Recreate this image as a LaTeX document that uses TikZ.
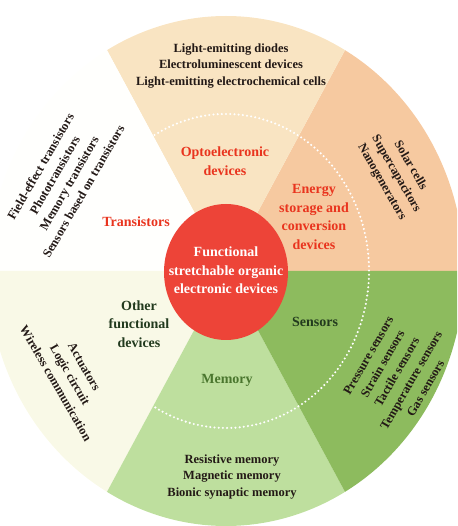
\documentclass[tikz,border=0pt]{standalone}
\usepackage{fontspec}
\setmainfont{Liberation Serif}
\definecolor{energyfill}{RGB}{246,201,160}
\definecolor{optofill}{RGB}{249,228,194}
\definecolor{transfill}{RGB}{255,255,253}
\definecolor{otherfill}{RGB}{249,249,231}
\definecolor{memfill}{RGB}{190,223,158}
\definecolor{sensfill}{RGB}{141,187,94}
\definecolor{corefill}{RGB}{237,68,56}
\definecolor{redtext}{RGB}{233,52,30}
\definecolor{listtext}{RGB}{35,25,22}
\definecolor{darkgreen}{RGB}{34,58,30}
\definecolor{memgreen}{RGB}{74,118,46}
\begin{document}
\begin{tikzpicture}[x=1pt,y=1pt,
  head/.style={font=\fontsize{14}{18.5}\selectfont\bfseries,align=center,inner sep=0pt},
  items/.style={font=\fontsize{12.5}{16.5}\selectfont\bfseries,align=center,inner sep=0pt,text=listtext}]
\useasboundingbox (-226,-255) rectangle (231,271);
\clip (-226,-255) rectangle (231,271);
\fill[energyfill] (0,0) -- (0:238 and 255) arc[start angle=0,end angle=60,x radius=238,y radius=255] -- cycle;
\fill[optofill] (0,0) -- (60:238 and 255) arc[start angle=60,end angle=120,x radius=238,y radius=255] -- cycle;
\fill[transfill] (0,0) -- (120:238 and 255) arc[start angle=120,end angle=180,x radius=238,y radius=255] -- cycle;
\fill[otherfill] (0,0) -- (180:238 and 255) arc[start angle=180,end angle=240,x radius=238,y radius=255] -- cycle;
\fill[memfill] (0,0) -- (240:238 and 255) arc[start angle=240,end angle=300,x radius=238,y radius=255] -- cycle;
\fill[sensfill] (0,0) -- (300:238 and 255) arc[start angle=300,end angle=360,x radius=238,y radius=255] -- cycle;
\draw[white,line width=2.3pt,line cap=round,dash pattern=on 0pt off 4.2pt] (120:143 and 157) arc[start angle=120,end angle=-120,x radius=143,y radius=157];
\fill[corefill] (0,-1) ellipse [x radius=62,y radius=68];
\node[head,text=white] (core) at (0,0.5) {Functional\\stretchable organic\\electronic devices};
\node[head,text=redtext] (opto) at (-1,110) {Optoelectronic\\devices};
\node[head,text=redtext] (energy) at (88,54) {Energy\\storage and\\conversion\\devices};
\node[head,text=redtext] (trans) at (-90,49) {Transistors};
\node[head,text=darkgreen] (other) at (-87,-53) {Other\\functional\\devices};
\node[head,text=darkgreen] (sens) at (89,-51) {Sensors};
\node[head,text=memgreen] (mem) at (1,-109) {Memory};
\node[items] (optolist) at (5,205) {Light-emitting diodes\\Electroluminescent devices\\Light-emitting electrochemical cells};
\node[items] (memlist) at (6,-206) {Resistive memory\\Magnetic memory\\Bionic synaptic memory};
\node[items,rotate=60] (translist) at (-164,92) {Field-effect transistors\\Phototransistors\\Memory transistors\\Sensors based on transistors};
\node[items,rotate=-60] (energylist) at (170,97) {Solar cells\\Supercapacitors\\Nanogenerators};
\node[items,rotate=60] (senslist) at (171,-101) {Pressure sensors\\Strain sensors\\Tactile sensors\\Temperature sensors\\Gas sensors};
\node[items,rotate=-60] (otherlist) at (-156,-104) {Actuators\\Logic circuit\\Wireless communication};
\end{tikzpicture}
\end{document}
